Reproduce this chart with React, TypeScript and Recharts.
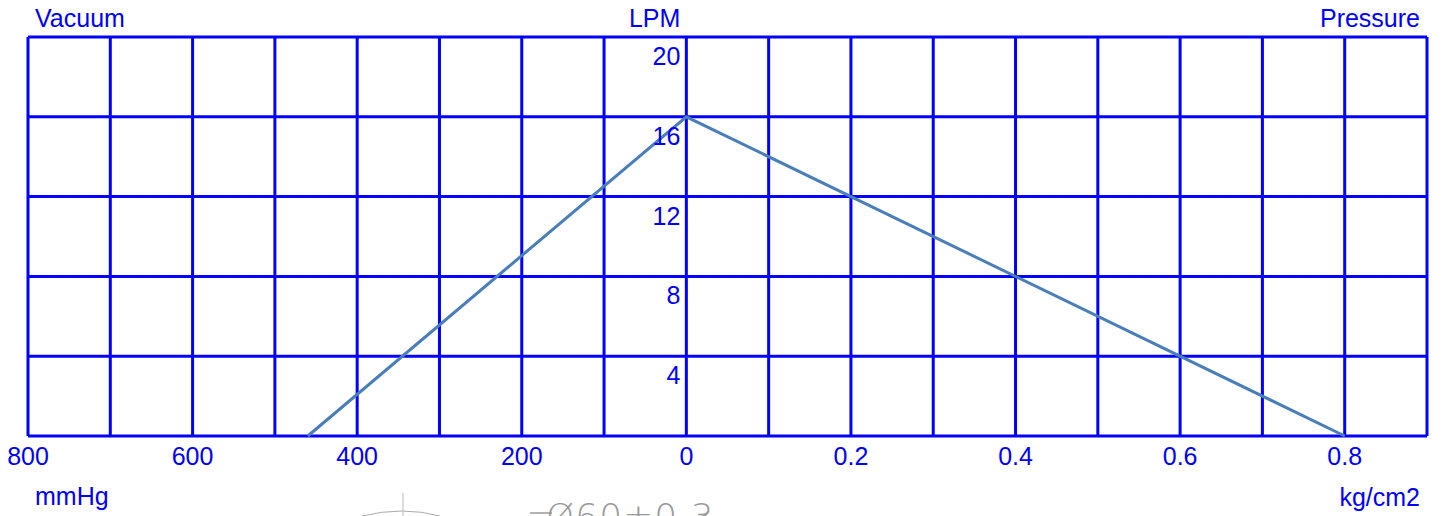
import React from "react";
import {
  LineChart,
  Line,
  XAxis,
  YAxis,
  CartesianGrid,
  ReferenceDot,
} from "recharts";

// Vacuum side (mmHg) and pressure side (kg/cm2) flow curve, in LPM
const vacuumMmHg = [460, 0];
const vacuumLpm = [0, 16];
const pressureKgCm2 = [0, 0.8];
const pressureLpm = [16, 0];

// Axis ticks: one grid column = 100 mmHg on the left, 0.1 kg/cm2 on the right
const xTicks = [-8, -7, -6, -5, -4, -3, -2, -1, 0, 1, 2, 3, 4, 5, 6, 7, 8, 9];
const xTickLabels = [
  "800", "", "600", "", "400", "", "200", "", "0",
  "", "0.2", "", "0.4", "", "0.6", "", "0.8", "",
];
const yTicks = [0, 4, 8, 12, 16, 20];
const yTickLabels = ["", "4", "8", "12", "16", "20"];

const data = [
  ...vacuumMmHg.map((v, i) => ({ x: -v / 100, lpm: vacuumLpm[i] })),
  ...pressureKgCm2.slice(1).map((p, i) => ({ x: p * 10, lpm: pressureLpm[i + 1] })),
];

const BLUE = "#0000FF";
const FONT = "'Liberation Sans', Arial, sans-serif";
const FS = 25;

const makeLabel =
  (text: string, dx: number, dy: number, anchor: "start" | "middle" | "end") =>
  (props: any) => {
    const vb = props.viewBox || {};
    const cx = (vb.x ?? 0) + (vb.width ?? 0) / 2;
    const cy = (vb.y ?? 0) + (vb.height ?? 0) / 2;
    return (
      <text
        x={cx + dx}
        y={cy + dy}
        textAnchor={anchor}
        fill={BLUE}
        fontSize={FS}
        fontFamily={FONT}
      >
        {text}
      </text>
    );
  };

const XTick = (props: any) => {
  const { x, y, payload } = props;
  const idx = xTicks.indexOf(payload.value);
  const label = idx >= 0 ? xTickLabels[idx] : "";
  if (!label) return null;
  return (
    <text x={x} y={y + 29} textAnchor="middle" fill={BLUE} fontSize={FS} fontFamily={FONT}>
      {label}
    </text>
  );
};

export default function App() {
  return (
    <div
      style={{
        position: "absolute",
        left: 0,
        top: 0,
        width: 1442,
        height: 516,
        background: "#fff",
        overflow: "hidden",
      }}
    >
      <LineChart
        width={1442}
        height={516}
        data={data}
        margin={{ top: 37, left: 28, right: 15, bottom: 0 }}
      >
        <CartesianGrid
          stroke={BLUE}
          strokeWidth={3}
          horizontalValues={yTicks}
          verticalValues={xTicks}
        />
        <XAxis
          dataKey="x"
          type="number"
          domain={[-8, 9]}
          ticks={xTicks}
          interval={0}
          axisLine={false}
          tickLine={false}
          tickSize={0}
          tickMargin={0}
          height={80}
          tick={<XTick />}
        />
        <YAxis type="number" domain={[0, 20]} ticks={yTicks} hide />
        <Line
          type="linear"
          dataKey="lpm"
          stroke="#4a7ebb"
          strokeWidth={3}
          dot={false}
          activeDot={false}
          isAnimationActive={false}
        />
        {yTicks.map((v, i) =>
          yTickLabels[i] ? (
            <ReferenceDot
              key={"y" + v}
              x={0}
              y={v}
              r={0}
              fill="none"
              stroke="none"
              ifOverflow="visible"
              label={makeLabel(yTickLabels[i], -6, 28, "end")}
            />
          ) : null
        )}
        <ReferenceDot x={0} y={20} r={0} fill="none" stroke="none" ifOverflow="visible"
          label={makeLabel("LPM", -6, -10, "end")} />
        <ReferenceDot x={-8} y={20} r={0} fill="none" stroke="none" ifOverflow="visible"
          label={makeLabel("Vacuum", 7, -10, "start")} />
        <ReferenceDot x={9} y={20} r={0} fill="none" stroke="none" ifOverflow="visible"
          label={makeLabel("Pressure", -7, -10, "end")} />
        <ReferenceDot x={-8} y={0} r={0} fill="none" stroke="none" ifOverflow="visible"
          label={makeLabel("mmHg", 7, 69, "start")} />
        <ReferenceDot x={9} y={0} r={0} fill="none" stroke="none" ifOverflow="visible"
          label={makeLabel("kg/cm2", -7, 70, "end")} />
      </LineChart>
      <svg
        width={1442}
        height={516}
        style={{ position: "absolute", left: 0, top: 0, pointerEvents: "none" }}
      >
        <path d="M362 516 Q403 506 440 516" stroke="#aaa" strokeWidth={1} fill="none" />
        <line x1={403} y1={493} x2={403} y2={516} stroke="#bbb" strokeWidth={1} />
        <line x1={530} y1={513} x2={552} y2={513} stroke="#999" strokeWidth={1.5} />
        <text
          x={546}
          y={529}
          fill="#999"
          fontSize={36}
          fontFamily="'DejaVu Sans', sans-serif"
          fontWeight={200}
          letterSpacing={1}
        >
          Ø60±0.3
        </text>
      </svg>
    </div>
  );
}
